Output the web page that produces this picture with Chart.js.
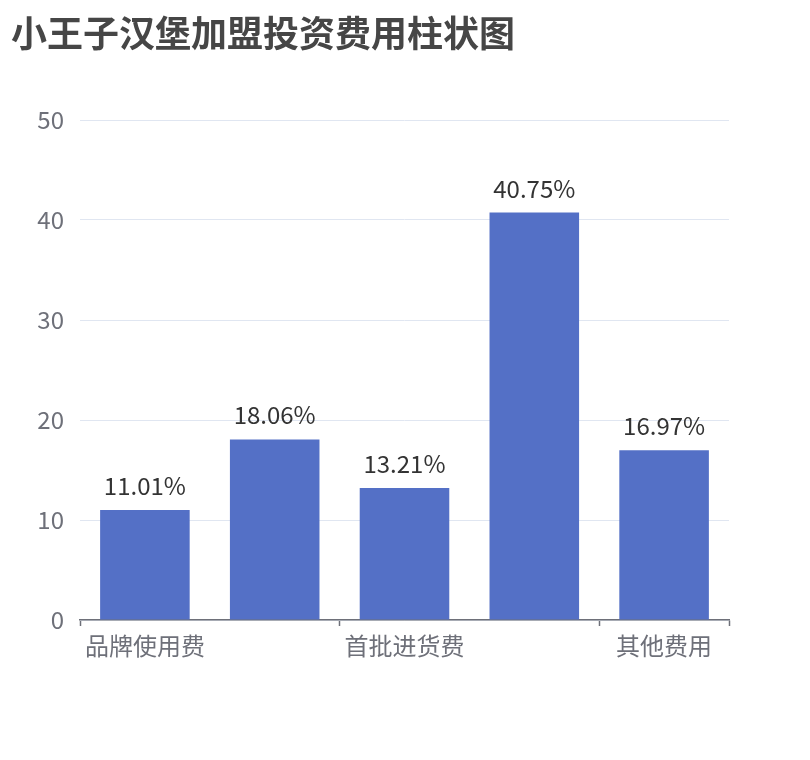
<!DOCTYPE html>
<html>
<head>
<meta charset="utf-8">
<script src="https://cdn.jsdelivr.net/npm/chart.js@4/dist/chart.umd.min.js"></script>
<style>
	html, body { margin: 0; padding: 0; background: #fff; }
	#wrap { position: relative; width: 810px; height: 760px; }
	#title {
		position: absolute; left: 11px; top: 5px; margin: 0;
		font: bold 36px "Noto Sans CJK SC", sans-serif; color: #464646;
	}
	canvas { position: absolute; left: 0; top: 0; }
</style>
</head>
<body>
<div id="wrap">
	<canvas id="chart" width="810" height="760"></canvas>
	<div id="title">小王子汉堡加盟投资费用柱状图</div>
</div>
<script>
const categories = ['品牌使用费', '店面装修费', '首批进货费', '设备购置费', '其他费用']
const values = [11.01, 18.06, 13.21, 40.75, 16.97]
const yTicks = [0, 10, 20, 30, 40, 50]

const fontFamily = '"Noto Sans CJK SC", sans-serif'

// value labels above the bars
const barLabels = {
	id: 'barLabels',
	afterDatasetsDraw(chart) {
		const ctx = chart.ctx
		const meta = chart.getDatasetMeta(0)
		ctx.save()
		ctx.font = '24px ' + fontFamily
		ctx.fillStyle = '#333'
		ctx.textAlign = 'center'
		ctx.textBaseline = 'alphabetic'
		meta.data.forEach((bar, i) => {
			ctx.fillText(values[i].toFixed(2) + '%', bar.x, bar.y - 15)
		})
		ctx.restore()
	}
}

new Chart(document.getElementById('chart'), {
	type: 'bar',
	data: {
		labels: categories,
		datasets: [{
			data: values,
			backgroundColor: '#5470c6',
			barPercentage: 0.69,
			categoryPercentage: 1
		}]
	},
	options: {
		responsive: false,
		animation: false,
		layout: { padding: { top: 120, right: 81, bottom: 0, left: 0 } },
		plugins: { legend: { display: false }, tooltip: { enabled: false } },
		scales: {
			x: {
				offset: true,
				grid: {
					offset: true,
					drawOnChartArea: false,
					drawTicks: true,
					tickLength: 6,
					tickWidth: 1.5,
					tickColor: ctx => (ctx.index === undefined || ctx.index % 2 === 0) ? '#6e7079' : 'rgba(0,0,0,0)'
				},
				border: { color: '#6e7079', width: 1.5 },
				ticks: {
					autoSkip: false,
					maxRotation: 0,
					padding: 5,
					color: '#6e7079',
					font: { size: 24, family: fontFamily },
					callback: (v, i) => i % 2 === 0 ? categories[i] : ''
				},
				afterFit: scale => { scale.height = 140 }
			},
			y: {
				min: 0,
				max: 50,
				afterBuildTicks: scale => { scale.ticks = yTicks.map(v => ({ value: v })) },
				grid: { color: '#e0e6f1', lineWidth: 1, drawTicks: false },
				border: { display: false },
				ticks: {
					padding: 16,
					color: '#6e7079',
					font: { size: 24, family: fontFamily }
				},
				afterFit: scale => { scale.width = 80 }
			}
		}
	},
	plugins: [barLabels]
})
</script>
</body>
</html>
